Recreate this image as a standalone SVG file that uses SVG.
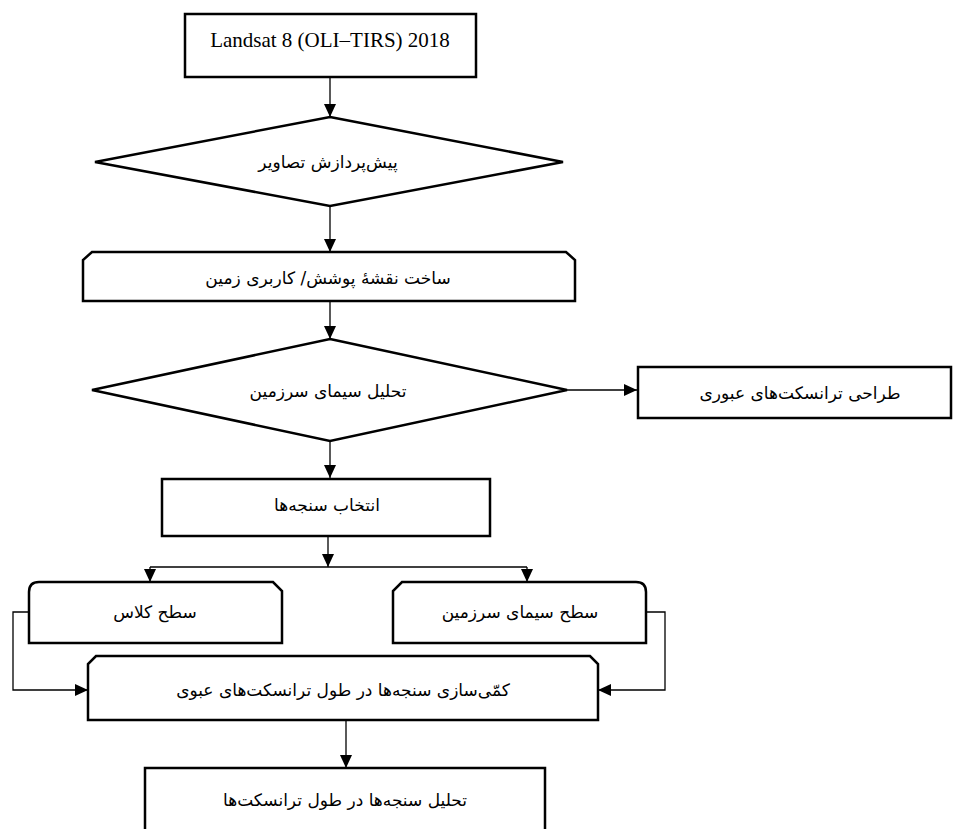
<svg xmlns="http://www.w3.org/2000/svg" width="955" height="829" viewBox="0 0 955 829">
<defs>
<marker id="ah" markerUnits="userSpaceOnUse" markerWidth="14" markerHeight="12" refX="13" refY="6" orient="auto">
<path d="M0,0 L13,6 L0,12 z" fill="#000"/>
</marker>
<style>
.box{fill:#fff;stroke:#000;stroke-width:2.5}
.con{fill:none;stroke:#000;stroke-width:1.3}
.fa{font-family:"DejaVu Sans",sans-serif;font-size:17px;fill:#000;text-anchor:middle}
.fl{font-family:"Liberation Serif",serif;font-size:21px;fill:#000;text-anchor:middle}
</style>
</defs>
<rect width="955" height="829" fill="#fff"/>
<g id="connectors">
<path class="con" d="M330,77 V117" marker-end="url(#ah)"/>
<path class="con" d="M330,206 V252" marker-end="url(#ah)"/>
<path class="con" d="M330,301 V339" marker-end="url(#ah)"/>
<path class="con" d="M567,390 H637" marker-end="url(#ah)"/>
<path class="con" d="M330,441 V478" marker-end="url(#ah)"/>
<path class="con" d="M328,536 V567" marker-end="url(#ah)"/>
<path class="con" d="M150,567 H527"/>
<path class="con" d="M150,567 V582" marker-end="url(#ah)"/>
<path class="con" d="M527,567 V582" marker-end="url(#ah)"/>
<path class="con" d="M29,612 H13 V690 H88" marker-end="url(#ah)"/>
<path class="con" d="M642,612 H665 V690 H598" marker-end="url(#ah)"/>
<path class="con" d="M346,720 V768" marker-end="url(#ah)"/>
</g>
<g id="n1">
<rect class="box" x="185" y="14" width="291" height="63"/>
<text class="fl" x="330" y="47">Landsat 8 (OLI–TIRS) 2018</text>
</g>
<g id="n2">
<polygon class="box" points="330,117 563,162 330,206 95,162" stroke-width="2"/>
<text class="fa" x="328" y="168">پیش‌پردازش تصاویر</text>
</g>
<g id="n3">
<path class="box" d="M92,252 H566 L575,260 V301 H83 V260 Z"/>
<text class="fa" x="328" y="284">ساخت نقشهٔ پوشش/ کاربری زمین</text>
</g>
<g id="n4">
<polygon class="box" points="330,339 567,390 330,441 92,390" stroke-width="2"/>
<text class="fa" x="328" y="397">تحلیل سیمای سرزمین</text>
</g>
<g id="n5">
<rect class="box" x="638" y="367" width="313" height="51" stroke-width="2"/>
<text class="fa" x="800" y="399">طراحی ترانسکت‌های عبوری</text>
</g>
<g id="n6">
<rect class="box" x="162" y="479" width="328" height="57"/>
<text class="fa" x="327" y="511">انتخاب سنجه‌ها</text>
</g>
<g id="n7">
<path class="box" d="M39,582 H273 L282,591 V643 H29 V592 Q29,582 39,582 Z"/>
<text class="fa" x="155" y="618">سطح کلاس</text>
</g>
<g id="n8">
<path class="box" d="M402,582 H636 Q646,582 646,592 V643 H393 V591 Z"/>
<text class="fa" x="520" y="618">سطح سیمای سرزمین</text>
</g>
<g id="n9">
<path class="box" d="M96,656 H590 L598,664 V720 H88 V664 Z"/>
<text class="fa" x="343" y="696">کمّی‌سازی سنجه‌ها در طول ترانسکت‌های عبوی</text>
</g>
<g id="n10">
<path class="box" d="M145,840 V768 H545 V840"/>
<text class="fa" x="345" y="806">تحلیل سنجه‌ها در طول ترانسکت‌ها</text>
</g>
</svg>
